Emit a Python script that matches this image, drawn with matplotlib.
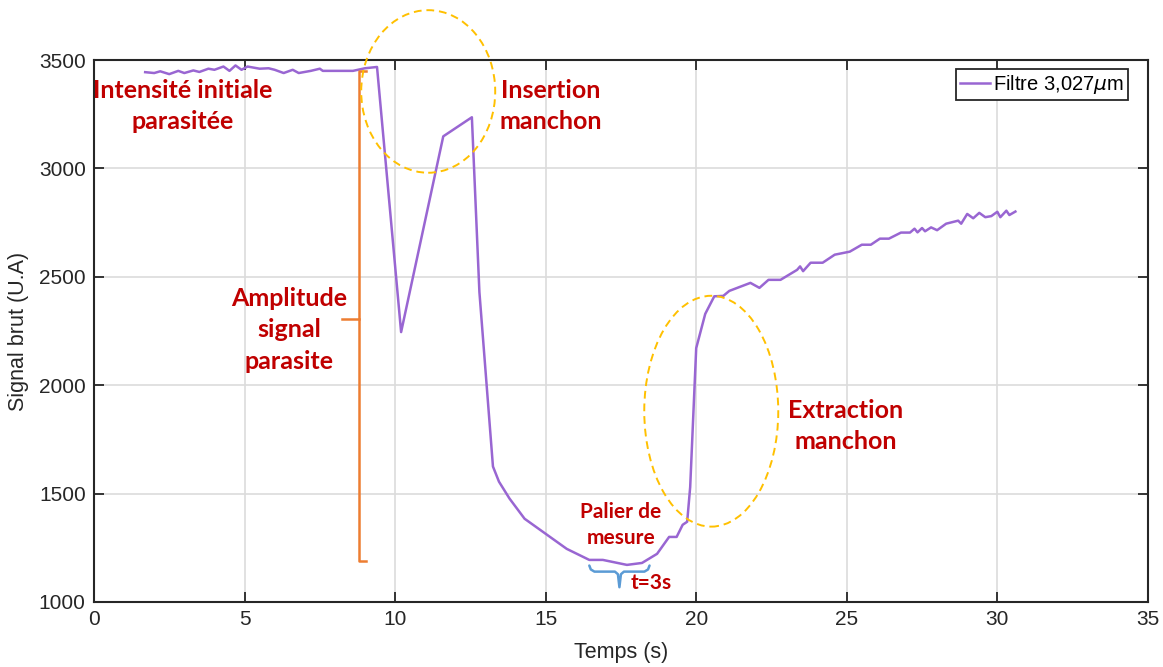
import matplotlib.pyplot as plt
from matplotlib.patches import Ellipse

# signal
temps = [1.7, 2.0, 2.2, 2.5, 2.8, 3.0, 3.3, 3.5, 3.8, 4.0, 4.3, 4.5, 4.7, 4.9,
         5.1, 5.5, 5.8, 6.0, 6.3, 6.6, 6.8, 7.2, 7.5, 7.6, 8.6, 9.0, 9.4,
         10.2, 11.6, 12.55, 12.8, 13.25, 13.45, 13.8, 14.3, 15.7, 16.45, 16.9,
         17.7, 18.2, 18.7, 19.1, 19.35, 19.55, 19.7, 19.8, 20.0, 20.3, 20.6,
         20.9, 21.1, 21.8, 22.1, 22.4, 22.8, 23.35, 23.45, 23.55, 23.8, 24.2,
         24.6, 25.1, 25.5, 25.8, 26.1, 26.4, 26.8, 27.1, 27.25, 27.35, 27.5,
         27.6, 27.8, 28.0, 28.3, 28.7, 28.8, 29.0, 29.2, 29.4, 29.6, 29.8,
         30.0, 30.1, 30.3, 30.4, 30.6]
signal = [3444, 3440, 3448, 3435, 3450, 3440, 3452, 3445, 3460, 3455, 3470,
          3450, 3475, 3455, 3470, 3460, 3462, 3455, 3440, 3455, 3440, 3450,
          3460, 3450, 3450, 3462, 3468,
          2245, 3148, 3236, 2430, 1625, 1555, 1477, 1384, 1245, 1194, 1194,
          1171, 1180, 1222, 1300, 1300, 1356, 1370, 1530, 2171, 2329, 2410,
          2412, 2435, 2472, 2449, 2486, 2486, 2532, 2548, 2526, 2565, 2565,
          2602, 2616, 2648, 2648, 2676, 2676, 2704, 2704, 2722, 2705, 2725,
          2710, 2728, 2715, 2745, 2759, 2745, 2790, 2770, 2795, 2775, 2780,
          2800, 2775, 2805, 2785, 2801]

annotations = ["Intensité initiale\nparasitée", "Insertion\nmanchon",
               "Amplitude\nsignal\nparasite", "Extraction\nmanchon"]
annot_x = [2.96, 15.17, 6.48, 24.97]
annot_y = [3288, 3288, 2255, 1812]

violet = '#9966d2'
rouge = '#c00000'
plt.rcParams['font.family'] = ['Liberation Sans', 'DejaVu Sans']

fig = plt.figure(figsize=(11.63, 6.67), dpi=100)
ax = fig.add_axes([0.0808, 0.0975, 0.9062, 0.8125])

ax.plot(temps, signal, color=violet, lw=1.8, label='Filtre 3,027$\\mu$m')

ax.set_xlim(0, 35)
ax.set_ylim(1000, 3500)
ax.set_xticks(range(0, 36, 5))
ax.set_yticks(range(1000, 3501, 500))
ax.grid(True, color='#dcdcdc', lw=1.2)
ax.set_axisbelow(True)
ax.tick_params(direction='in', top=True, right=True, length=7, width=1.3,
               colors='#262626', labelsize=15, pad=6)
for s in ax.spines.values():
    s.set_color('#262626')
    s.set_linewidth(1.5)
ax.set_xlabel('Temps (s)', fontsize=15.5, color='#262626', labelpad=9)
ax.set_ylabel('Signal brut (U.A)', fontsize=15.5, color='#262626', labelpad=7)

leg = ax.legend(loc='upper right', bbox_to_anchor=(0.981, 0.983),
                fontsize=14.5, fancybox=False, framealpha=1,
                edgecolor='#262626', handlelength=1.5, borderpad=0.2,
                handletextpad=0.15, borderaxespad=0)
leg.get_frame().set_linewidth(1.3)

# yellow dashed ellipses
for cx, cy, w, h in [(11.1, 3355, 4.45, 750), (20.5, 1880, 4.45, 1065)]:
    ax.add_patch(Ellipse((cx, cy), w, h, fill=False, ls=(0, (4, 2.5)),
                         ec='#ffc000', lw=1.4, clip_on=False, zorder=3))

# orange bracket (amplitude)
bx = 8.8
ax.plot([bx + 0.25, bx, bx, bx + 0.25], [3448, 3448, 1190, 1190],
        color='#ed7d31', lw=1.8)
ax.plot([bx - 0.55, bx], [2305, 2305], color='#ed7d31', lw=1.8)

# blue brace (t=3s)
ax.plot([16.45, 16.5, 16.62, 17.3, 17.4, 17.45, 17.5, 17.6, 18.28, 18.4,
         18.45],
        [1168, 1150, 1140, 1140, 1128, 1068, 1128, 1140, 1140, 1150, 1168],
        color='#5b9bd5', lw=1.8, solid_capstyle='round')

font = ['Lato', 'DejaVu Sans']
for txt, x, y in zip(annotations, annot_x, annot_y):
    ax.text(x, y, txt, ha='center', va='center', color=rouge, fontsize=18,
            fontweight='bold', family=font, linespacing=1.45)
ax.text(17.5, 1355, "Palier de\nmesure", ha='center', va='center',
        color=rouge, fontsize=15, fontweight='bold', family=font,
        linespacing=1.4)
ax.text(17.83, 1088, "t=3s", ha='left', va='center', color=rouge,
        fontsize=15, fontweight='bold', family=font)

fig.savefig('out.png', dpi=100)
